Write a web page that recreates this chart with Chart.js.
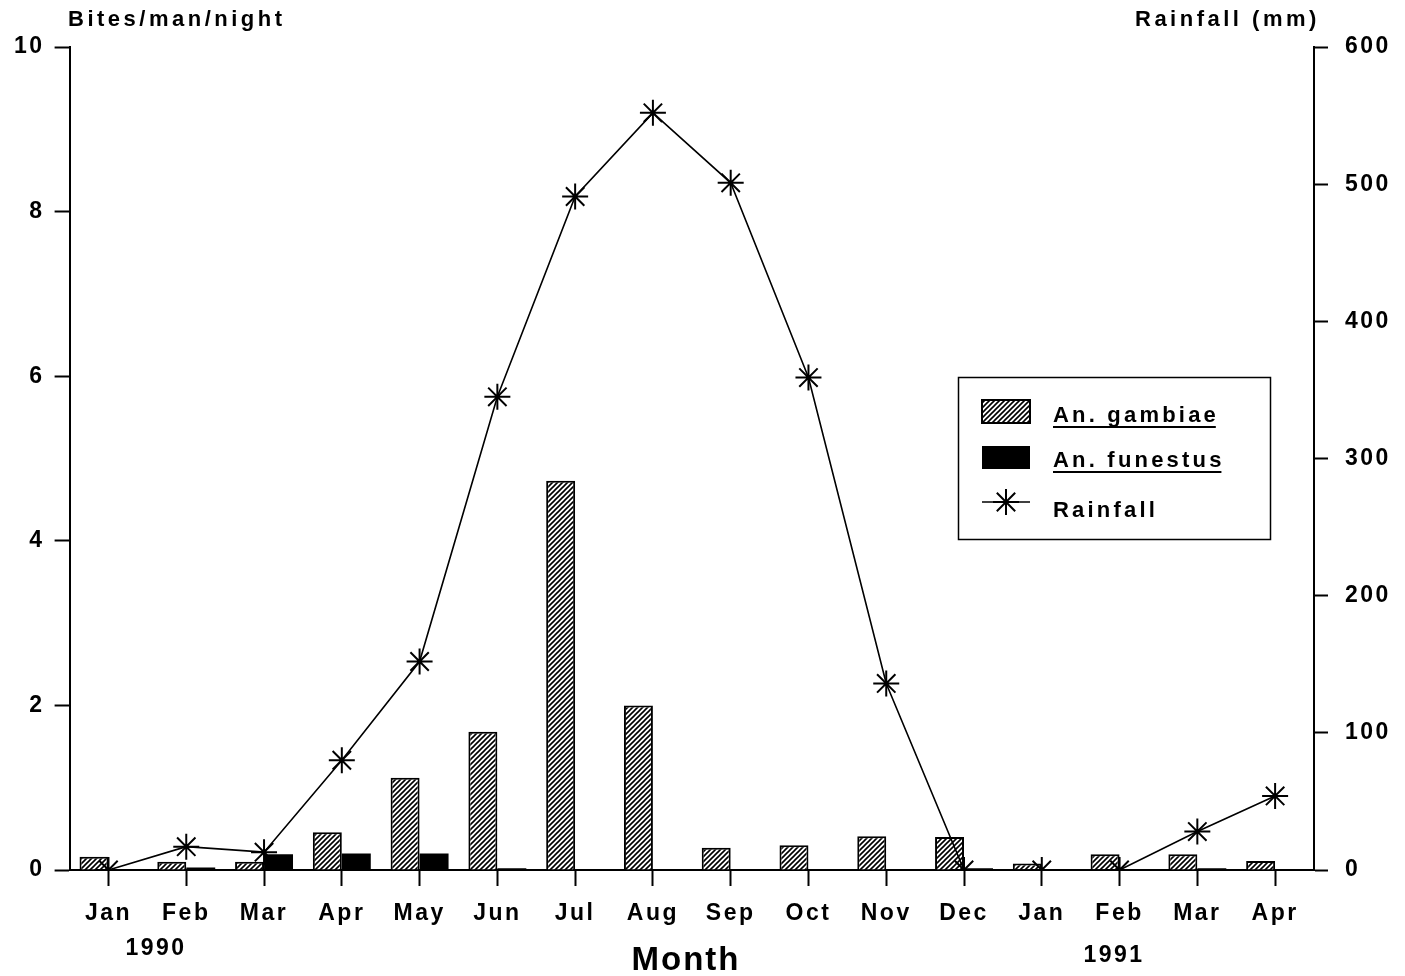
<!DOCTYPE html>
<html>
<head>
<meta charset="utf-8">
<script src="https://cdn.jsdelivr.net/npm/chart.js@4/dist/chart.umd.min.js"></script>
<style>
  html, body { margin: 0; padding: 0; background: #fff; }
  canvas { display: block; }
</style>
</head>
<body>
<canvas id="c" width="1405" height="976"></canvas>
<script>
// Monthly biting rates of the two vectors and monthly rainfall, Jan 1990 - Apr 1991
const months = ['Jan', 'Feb', 'Mar', 'Apr', 'May', 'Jun', 'Jul', 'Aug', 'Sep', 'Oct', 'Nov', 'Dec', 'Jan', 'Feb', 'Mar', 'Apr'];
const gambiae = [0.16, 0.10, 0.10, 0.46, 1.12, 1.68, 4.73, 2.00, 0.27, 0.30, 0.41, 0.40, 0.08, 0.19, 0.19, 0.11];
const funestus = [0, 0.03, 0.19, 0.20, 0.20, 0.02, 0, 0, 0, 0.01, 0, 0.02, 0, 0, 0.02, 0];
const rainfall = [0, 17, 13, 80, 152, 345, 491, 552, 501, 359, 136, 0, 0, 0, 28, 54];
const bitesTicks = { min: 0, max: 10, step: 2 };
const rainTicks = { min: 0, max: 600, step: 100 };
const yearLabels = [{ text: '1990', x: 156, y: 955 }, { text: '1991', x: 1114, y: 962 }];

const FONT = '"Liberation Sans", Arial, Helvetica, sans-serif';
const INK = '#000';

// diagonal hatch used for An. gambiae
const canvas = document.getElementById('c');
const mainCtx = canvas.getContext('2d');
function makeHatch() {
  const s = 5;
  const t = document.createElement('canvas');
  t.width = s; t.height = s;
  const g = t.getContext('2d');
  g.fillStyle = '#fff';
  g.fillRect(0, 0, s, s);
  g.strokeStyle = '#000';
  g.lineWidth = 1.6;
  g.beginPath();
  g.moveTo(-1, s + 1); g.lineTo(s + 1, -1);
  g.moveTo(-1, 1); g.lineTo(1, -1);
  g.moveTo(s - 1, s + 1); g.lineTo(s + 1, s - 1);
  g.stroke();
  return mainCtx.createPattern(t, 'repeat');
}
const hatch = makeHatch();

function drawStar(ctx, x, y, r, lw) {
  ctx.save();
  ctx.strokeStyle = INK;
  ctx.lineWidth = lw;
  ctx.beginPath();
  for (let i = 0; i < 4; i++) {
    const a = i * Math.PI / 4;
    ctx.moveTo(x - Math.cos(a) * r, y - Math.sin(a) * r);
    ctx.lineTo(x + Math.cos(a) * r, y + Math.sin(a) * r);
  }
  ctx.stroke();
  ctx.restore();
}

const spacingPlugin = {
  id: 'spacing',
  beforeDraw(chart) { chart.ctx.letterSpacing = '2.5px'; }
};

const annotations = {
  id: 'annotations',
  afterDraw(chart) {
    const ctx = chart.ctx;
    ctx.save();
    ctx.fillStyle = INK;
    ctx.textBaseline = 'alphabetic';
    ctx.letterSpacing = '3.5px';
    ctx.font = 'bold 22px ' + FONT;
    ctx.textAlign = 'left';
    ctx.fillText('Bites/man/night', 68, 26);
    ctx.fillText('Rainfall (mm)', 1135, 26);

    ctx.letterSpacing = '2.5px';
    ctx.font = 'bold 23px ' + FONT;
    ctx.textAlign = 'center';
    yearLabels.forEach(l => ctx.fillText(l.text, l.x, l.y));

    ctx.letterSpacing = '2px';
    ctx.font = 'bold 33px ' + FONT;
    ctx.fillText('Month', 686, 970);

    // legend
    ctx.lineWidth = 1.5;
    ctx.strokeStyle = INK;
    ctx.strokeRect(958.5, 377.5, 312, 162);
    const ds = chart.data.datasets;
    ctx.fillStyle = ds[0].backgroundColor;
    ctx.fillRect(982, 400, 48, 23);
    ctx.lineWidth = 2;
    ctx.strokeRect(982, 400, 48, 23);
    ctx.fillStyle = ds[1].backgroundColor;
    ctx.fillRect(982, 446, 48, 23);
    ctx.lineWidth = 1.5;
    ctx.beginPath();
    ctx.moveTo(982, 502); ctx.lineTo(1030, 502);
    ctx.stroke();
    drawStar(ctx, 1006, 502, 13, 2);

    ctx.fillStyle = INK;
    ctx.textAlign = 'left';
    ctx.letterSpacing = '3.2px';
    ctx.font = 'bold 22px ' + FONT;
    const items = [[ds[0].label, 422, true], [ds[1].label, 467, true], [ds[2].label, 517, false]];
    items.forEach(([txt, y, underline]) => {
      ctx.fillText(txt, 1053, y);
      if (underline) {
        const w = ctx.measureText(txt).width - 3.2;
        ctx.fillRect(1053, y + 4, w, 2);
      }
    });
    ctx.restore();
  }
};

const tickFont = { family: FONT, size: 23, weight: 'bold' };

new Chart(canvas, {
  type: 'bar',
  data: {
    labels: months,
    datasets: [
      {
        label: 'An. gambiae',
        data: gambiae,
        backgroundColor: hatch,
        borderColor: INK,
        borderWidth: 2,
        yAxisID: 'y',
        order: 1,
        categoryPercentage: 0.745,
        barPercentage: 1
      },
      {
        label: 'An. funestus',
        data: funestus,
        backgroundColor: INK,
        borderColor: INK,
        borderWidth: 0,
        yAxisID: 'y',
        order: 1,
        categoryPercentage: 0.745,
        barPercentage: 1
      },
      {
        type: 'line',
        label: 'Rainfall',
        data: rainfall,
        yAxisID: 'y1',
        order: 0,
        borderColor: INK,
        borderWidth: 1.6,
        tension: 0,
        fill: false,
        pointStyle: 'star',
        pointRadius: 13,
        pointBorderWidth: 2,
        pointBorderColor: INK,
        pointBackgroundColor: INK
      }
    ]
  },
  options: {
    responsive: false,
    devicePixelRatio: 1,
    animation: false,
    layout: { padding: { top: 47, left: 0, right: 0, bottom: 0 } },
    plugins: { legend: { display: false }, tooltip: { enabled: false }, title: { display: false } },
    scales: {
      x: {
        offset: true,
        grid: { display: true, offset: false, drawOnChartArea: false, drawTicks: true, tickLength: 16, tickWidth: 2, tickColor: INK },
        border: { display: true, color: INK, width: 2 },
        ticks: { color: INK, padding: 14, maxRotation: 0, autoSkip: false, font: tickFont },
        afterFit(s) { s.height = 106; }
      },
      y: {
        position: 'left',
        min: bitesTicks.min,
        max: bitesTicks.max,
        grid: { drawOnChartArea: false, drawTicks: true, tickLength: 15, tickWidth: 2, tickColor: INK },
        border: { display: true, color: INK, width: 2 },
        ticks: { stepSize: bitesTicks.step, color: INK, padding: 10, font: tickFont },
        afterFit(s) { s.width = 69.6; }
      },
      y1: {
        position: 'right',
        min: rainTicks.min,
        max: rainTicks.max,
        grid: { drawOnChartArea: false, drawTicks: true, tickLength: 14, tickWidth: 2, tickColor: INK },
        border: { display: true, color: INK, width: 2 },
        ticks: { stepSize: rainTicks.step, color: INK, padding: 17, font: tickFont },
        afterFit(s) { s.width = 91; }
      }
    }
  },
  plugins: [spacingPlugin, annotations]
});
</script>
</body>
</html>
